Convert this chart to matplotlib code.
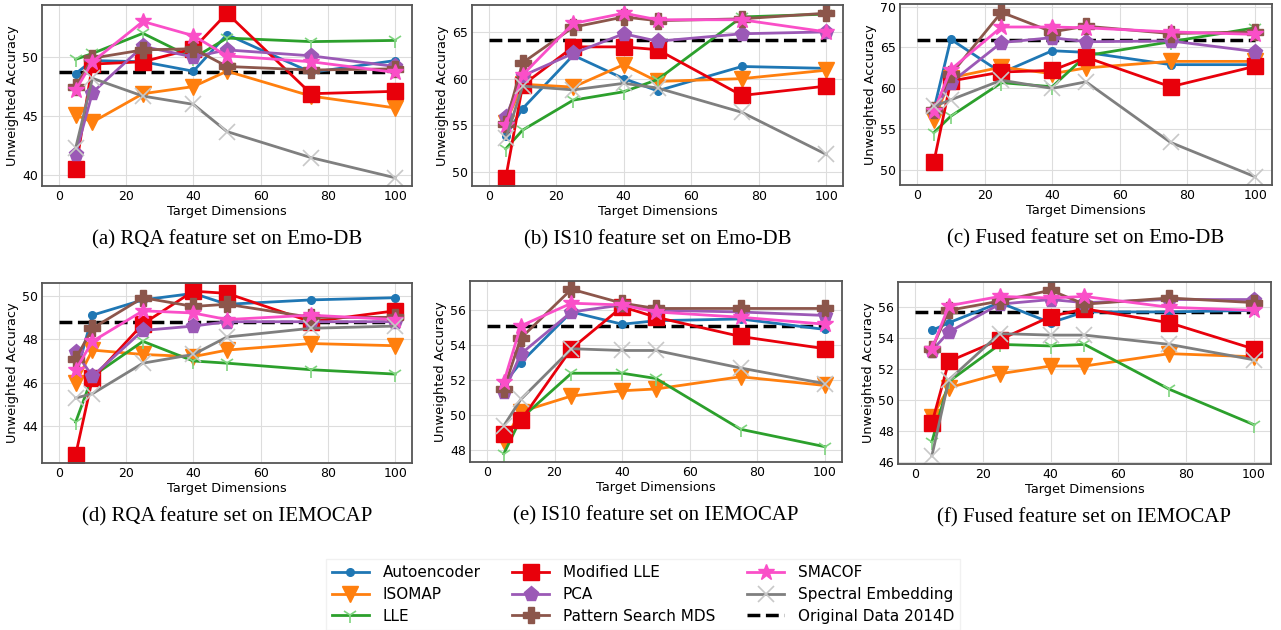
import matplotlib
matplotlib.use('Agg')
import matplotlib.pyplot as plt
from matplotlib.ticker import MultipleLocator, FormatStrFormatter

plt.rcParams['font.family'] = ['DejaVu Sans']

dims = [5, 10, 25, 40, 50, 75, 100]
methods = ['Autoencoder', 'ISOMAP', 'LLE', 'Modified LLE', 'PCA',
           'Pattern Search MDS', 'SMACOF', 'Spectral Embedding']
captions = ['(a) RQA feature set on Emo-DB', '(b) IS10 feature set on Emo-DB',
            '(c) Fused feature set on Emo-DB', '(d) RQA feature set on IEMOCAP',
            '(e) IS10 feature set on IEMOCAP', '(f) Fused feature set on IEMOCAP']

# accuracy per method, one list per panel
rqa_emodb = [
    [48.6, 49.7, 49.6, 48.8, 51.9, 48.7, 49.7],
    [45.1, 44.5, 46.9, 47.5, 48.8, 46.7, 45.7],
    [49.8, 50.3, 52.0, 49.9, 51.6, 51.3, 51.4],
    [40.5, 49.4, 49.6, 50.7, 53.7, 46.9, 47.1],
    [41.8, 47.0, 50.9, 50.0, 50.6, 50.1, 49.2],
    [47.5, 49.9, 50.6, 50.7, 49.2, 48.9, 49.0],
    [47.2, 49.6, 53.0, 51.8, 50.1, 49.6, 48.7],
    [42.3, 48.2, 46.7, 46.0, 43.7, 41.5, 39.8],
]
is10_emodb = [
    [53.9, 56.8, 62.5, 60.0, 58.7, 61.3, 61.1],
    [55.3, 59.4, 59.1, 61.5, 59.7, 60.0, 60.9],
    [52.5, 54.5, 57.7, 58.6, 59.9, 66.6, 66.9],
    [49.4, 59.3, 63.4, 63.4, 63.1, 58.2, 59.2],
    [55.9, 60.3, 62.7, 64.8, 64.0, 64.8, 65.0],
    [55.2, 61.7, 65.5, 66.6, 66.2, 66.4, 67.0],
    [55.0, 60.4, 65.9, 67.0, 66.3, 66.3, 65.0],
    [53.6, 59.2, 58.8, 59.5, 59.0, 56.4, 51.9],
]
fused_emodb = [
    [57.4, 66.0, 61.9, 64.6, 64.4, 62.9, 62.9],
    [56.1, 61.3, 62.6, 61.8, 62.5, 63.3, 63.3],
    [54.6, 56.6, 60.7, 60.2, 64.0, 65.7, 67.4],
    [51.0, 60.9, 62.0, 62.2, 63.8, 60.2, 62.7],
    [57.2, 60.7, 65.6, 66.2, 65.7, 65.8, 64.5],
    [57.4, 61.7, 69.3, 66.9, 67.6, 66.7, 66.9],
    [57.2, 62.3, 67.5, 67.5, 67.4, 66.9, 66.6],
    [57.8, 58.6, 61.0, 60.0, 60.8, 53.4, 49.2],
]
rqa_iemocap = [
    [46.3, 49.1, 49.8, 50.1, 49.6, 49.8, 49.9],
    [46.0, 47.5, 47.3, 47.2, 47.5, 47.8, 47.7],
    [44.2, 46.3, 47.9, 47.0, 46.9, 46.6, 46.4],
    [42.7, 46.2, 48.7, 50.2, 50.1, 48.8, 49.3],
    [47.4, 46.3, 48.4, 48.6, 48.8, 48.8, 48.8],
    [47.1, 48.5, 49.9, 49.5, 49.6, 49.0, 49.0],
    [46.6, 47.9, 49.3, 49.2, 48.9, 49.1, 48.9],
    [45.3, 45.5, 46.9, 47.3, 48.1, 48.5, 48.6],
]
is10_iemocap = [
    [51.8, 53.0, 55.9, 55.2, 55.4, 55.5, 54.9],
    [48.5, 50.2, 51.1, 51.4, 51.5, 52.2, 51.7],
    [47.8, 49.8, 52.4, 52.4, 52.1, 49.2, 48.2],
    [48.9, 49.7, 53.8, 56.2, 55.6, 54.5, 53.8],
    [51.3, 53.5, 55.9, 56.3, 56.0, 55.9, 55.7],
    [51.5, 54.4, 57.2, 56.4, 56.1, 56.1, 56.1],
    [51.9, 55.1, 56.4, 56.3, 55.9, 55.6, 55.2],
    [49.4, 50.9, 53.8, 53.7, 53.7, 52.7, 51.8],
]
fused_iemocap = [
    [54.5, 55.0, 56.3, 55.0, 55.7, 55.7, 55.8],
    [48.9, 50.8, 51.7, 52.2, 52.2, 53.0, 52.8],
    [47.3, 51.2, 53.6, 53.5, 53.6, 50.7, 48.4],
    [48.5, 52.5, 53.9, 55.4, 55.9, 55.0, 53.3],
    [53.2, 54.4, 56.2, 56.5, 56.3, 56.5, 56.5],
    [53.3, 55.8, 56.4, 57.1, 56.2, 56.6, 56.3],
    [53.3, 56.1, 56.7, 56.6, 56.7, 56.0, 55.8],
    [46.4, 51.3, 54.3, 54.2, 54.2, 53.6, 52.6],
]
panels = [rqa_emodb, is10_emodb, fused_emodb, rqa_iemocap, is10_iemocap, fused_iemocap]
# accuracy of the original 2014-dimensional data
baseline = [48.7, 64.1, 65.9, 48.8, 55.1, 55.7]
ytick_step = [5, 5, 5, 2, 2, 2]

colors = ['#1f77b4', '#ff7f0e', '#2ca02c', '#e8000b', '#9b59b6', '#8c564b', '#fa4fc8', '#7f7f7f']
markers = ['o', 'v', '1', 's', 'p', 'P', '*', 'x']
msizes = [5.5, 11, 11, 11, 11, 11, 12, 12]
medge = ['#1f77b4', '#ff7f0e', '#7fd47f', '#e8000b', '#9b59b6', '#8c564b', '#fa4fc8', '#c8c8c8']

fig = plt.figure(figsize=(12.81, 6.3), dpi=100)
rects = [
    [0.0328, 0.7048, 0.2888, 0.2873],
    [0.3685, 0.7048, 0.2896, 0.2873],
    [0.7026, 0.7063, 0.2904, 0.2873],
    [0.0328, 0.2651, 0.2888, 0.2857],
    [0.3669, 0.2667, 0.2904, 0.2873],
    [0.7010, 0.2635, 0.2912, 0.2889],
]

for k, data in enumerate(panels):
    ax = fig.add_axes(rects[k])
    ax.plot([0, 100], [baseline[k]] * 2, '--', color='black', lw=2.5, zorder=1.5,
            label='Original Data 2014D')
    for i, m in enumerate(methods):
        ax.plot(dims, data[i], color=colors[i], marker=markers[i], ms=msizes[i],
                mfc=colors[i], mec=medge[i], mew=1.2 if markers[i] in ('1', 'x') else 1,
                lw=2, label=m)
    ax.grid(True, color='#dddddd', lw=0.8)
    ax.set_axisbelow(True)
    ax.set_xticks([0, 20, 40, 60, 80, 100])
    ax.yaxis.set_major_locator(MultipleLocator(ytick_step[k]))
    ax.yaxis.set_major_formatter(FormatStrFormatter('%d'))
    ax.tick_params(length=0, labelsize=9, pad=3)
    for s in ax.spines.values():
        s.set_color('#555555')
        s.set_linewidth(1.3)
    ax.set_xlabel('Target Dimensions', fontsize=9.3, labelpad=1)
    ax.set_ylabel('Unweighted Accuracy', fontsize=9.3, labelpad=2)
    x0, y0, w, h = rects[k]
    fig.text(x0 + w / 2, y0 - 0.085, captions[k], ha='center', va='center',
             family='Liberation Serif', fontsize=15)
    if k == 0:
        handles, labels = ax.get_legend_handles_labels()

handles = handles[1:] + handles[:1]
labels = labels[1:] + labels[:1]
leg = fig.legend(handles, labels, ncol=3, loc='upper center', bbox_to_anchor=(0.502, 0.125),
                 fontsize=11, frameon=True, handlelength=2.4, handletextpad=0.9,
                 columnspacing=2.1, labelspacing=0.45, borderpad=0.4, fancybox=False)
leg.get_frame().set_edgecolor('#eeeeee')

fig.savefig('out.png', dpi=100)
